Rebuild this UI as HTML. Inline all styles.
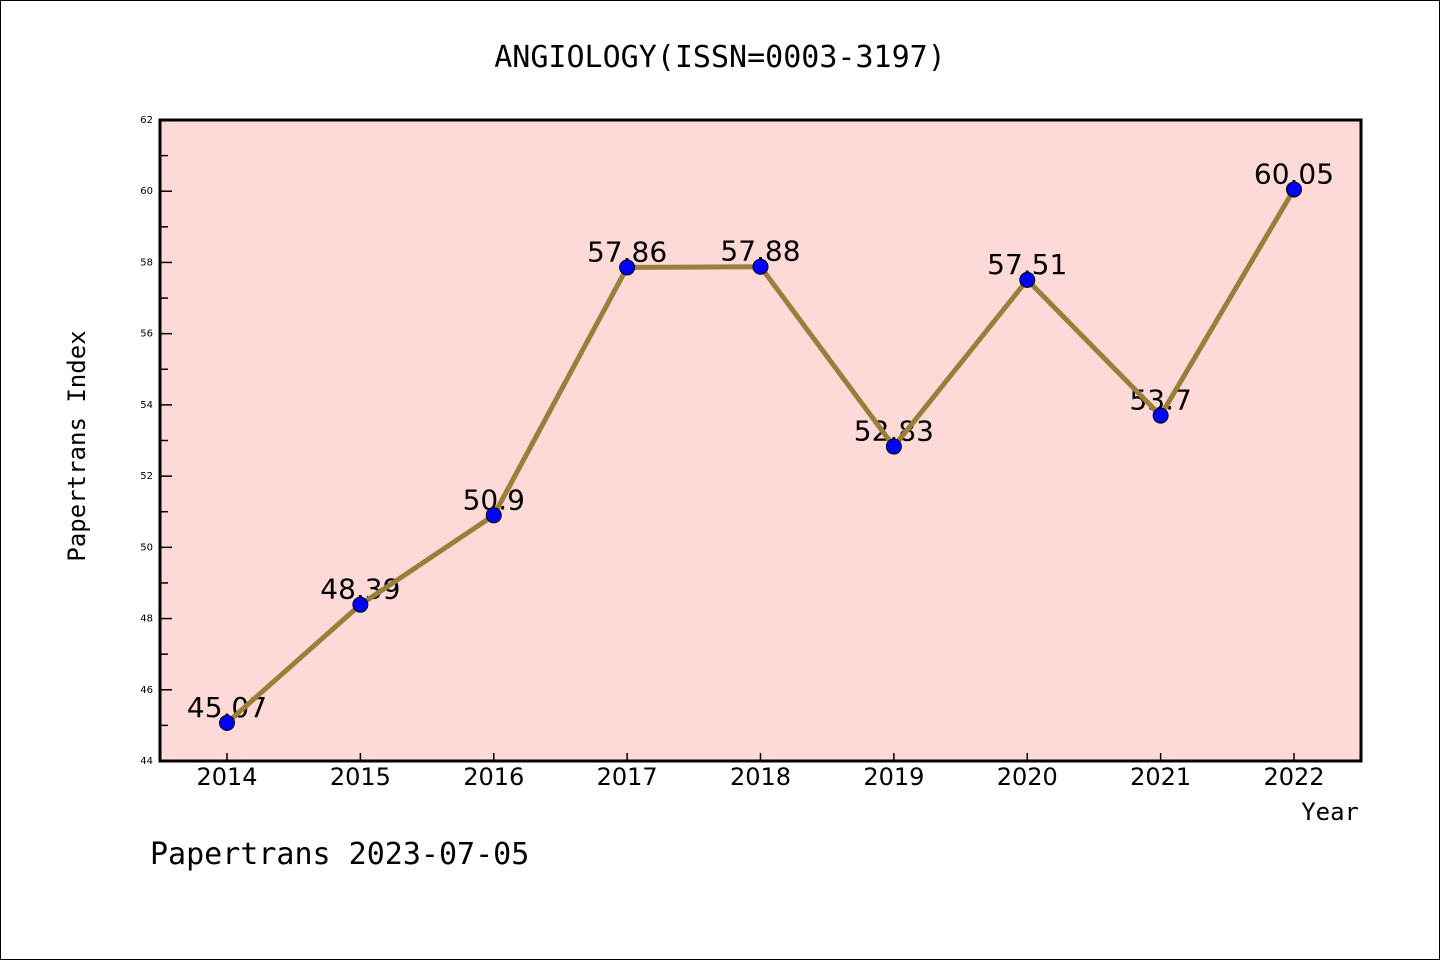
<!DOCTYPE html>
<html><head><meta charset="utf-8"><style>
html,body{margin:0;padding:0;background:#fff;}
svg{display:block;}
text{font-family:"DejaVu Sans","Liberation Sans",sans-serif;}
.m{font-family:"WenQuanYi Zen Hei","DejaVu Sans Mono",monospace;}
</style></head><body>
<svg id="chart" width="1440" height="960" xmlns="http://www.w3.org/2000/svg">
<rect x="0.5" y="0.5" width="1439" height="959" fill="#fff" stroke="#000"/>
<text class="m" x="720" y="67" font-size="30" text-anchor="middle">ANGIOLOGY(ISSN=0003-3197)</text>
<rect x="160" y="120" width="1201" height="641" fill="#FDDAD7"/>
<g id="axes"></g>
<g id="series"></g>
<rect x="160" y="120" width="1201" height="641" fill="none" stroke="#000" stroke-width="3"/>
<text class="m" x="85" y="446" font-size="24" text-anchor="middle" transform="rotate(-90 85 446)">Papertrans Index</text>
<text class="m" x="1359" y="820" font-size="24" text-anchor="end">Year</text>
<text class="m" x="150" y="864" font-size="30">Papertrans 2023-07-05</text>
</svg>
<script>
const years = ["2014","2015","2016","2017","2018","2019","2020","2021","2022"];
const values = [45.07,48.39,50.9,57.86,57.88,52.83,57.51,53.7,60.05];
const labels = ["45.07","48.39","50.9","57.86","57.88","52.83","57.51","53.7","60.05"];
const yTicks = [44,46,48,50,52,54,56,58,60,62];
const yMin=44,yMax=62;
const NS="http://www.w3.org/2000/svg";
function X(i){return 227+i*(1294-227)/(years.length-1);}
function Y(v){return 761-(v-yMin)/(yMax-yMin)*641;}
function mk(t,a){const e=document.createElementNS(NS,t);for(const k in a)e.setAttribute(k,a[k]);return e;}
const ax=document.getElementById('axes'), se=document.getElementById('series');
yTicks.forEach(t=>{
  const l=mk('line',{x1:160,x2:172,y1:Y(t),y2:Y(t),stroke:'#000','stroke-width':1.5});
  
  
  ax.appendChild(l);
  const tx=mk('text',{x:153,y:Y(t)+3,'font-size':10,'text-anchor':'end'});
  tx.textContent=t;
  
  
  ax.appendChild(tx);
  if(t<yMax){
    const m=mk('line',{x1:160,x2:168,y1:Y(t+1),y2:Y(t+1),stroke:'#000','stroke-width':1.5});
    
    
    ax.appendChild(m);
  }
});
years.forEach((yr,i)=>{
  const l=mk('line',{x1:X(i),x2:X(i),y1:761,y2:753,stroke:'#000','stroke-width':1.5});
  
  
  ax.appendChild(l);
  const tx=mk('text',{x:X(i),y:785,'font-size':24,'text-anchor':'middle'});
  tx.textContent=yr;
  
  
  ax.appendChild(tx);
});
values.forEach((v,i)=>{
  const tx=mk('text',{x:X(i),y:Y(v)-6,'font-size':28,'text-anchor':'middle'});
  tx.textContent=labels[i];
  
  
  se.appendChild(tx);
});
const pl=mk('polyline',{points:values.map((v,i)=>X(i)+','+Y(v)).join(' '),fill:'none',stroke:'#9A7F3A','stroke-width':5,'stroke-linejoin':'round'});


se.appendChild(pl);
values.forEach((v,i)=>{
  const c=mk('circle',{cx:X(i),cy:Y(v),r:7.5,fill:'#0000FF',stroke:'#000','stroke-width':1});
  
  
  se.appendChild(c);
});
</script>
</body></html>
